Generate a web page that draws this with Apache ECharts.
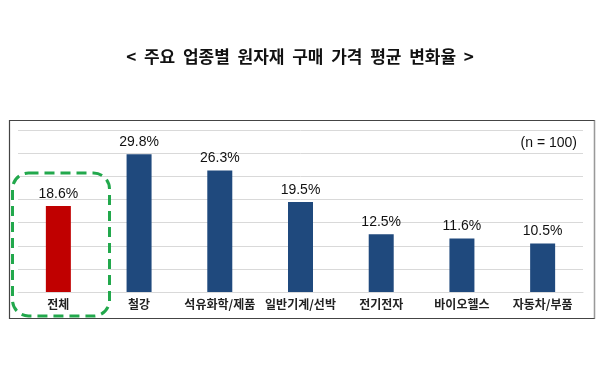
<!DOCTYPE html>
<html><head><meta charset="utf-8">
<script src="https://cdn.jsdelivr.net/npm/echarts@6/dist/echarts.min.js"></script>
<style>html,body{margin:0;padding:0;background:#fff}#c{width:600px;height:372px}</style>
</head><body><div id="c"></div>
<script>
const categories = ['전체','철강','석유화학/제품','일반기계/선박','전기전자','바이오헬스','자동차/부품'];
const values = [18.6, 29.8, 26.3, 19.5, 12.5, 11.6, 10.5];
const highlightIndex = 0;
const yMax = 35, yInterval = 5;
const titleText = '<  주요  업종별  원자재  구매  가격  평균  변화율  >';
const noteText = '(n = 100)';

const chart = echarts.init(document.getElementById('c'), null, {renderer:'canvas'});
const KR = '"Noto Sans CJK KR","Noto Sans",sans-serif';
chart.setOption({
  animation:false,
  backgroundColor:'#fff',
  title:{text:titleText,left:'center',top:43,textStyle:{fontFamily:KR,fontSize:17,fontWeight:'bold',color:'#111'}},
  grid:{left:18,right:17,top:130.3,bottom:80,containLabel:false},
  xAxis:{type:'category',data:categories,
    axisLine:{show:true,lineStyle:{color:'#d9d9d9',width:1}},
    axisTick:{show:false},
    axisLabel:{interval:0,fontFamily:KR,fontSize:12,fontWeight:'bold',color:'#222',margin:6}},
  yAxis:{type:'value',min:0,max:yMax,interval:yInterval,
    axisLine:{show:false},axisTick:{show:false},axisLabel:{show:false},
    splitLine:{lineStyle:{color:'#d9d9d9',width:1}}},
  series:[{type:'bar',barWidth:25,
    data:values.map((v,i)=>({value:v,itemStyle:{color:i===highlightIndex?'#c00000':'#1f497d'}})),
    label:{show:true,position:'top',distance:5,fontFamily:'"Liberation Sans",Arial,sans-serif',fontSize:14,color:'#111',formatter:p=>p.value.toFixed(1)+'%'}}],
  graphic:[
    {type:'rect',shape:{x:9.5,y:120.5,width:585,height:198},style:{fill:'none',stroke:'#444',lineWidth:1.2},z:1},
    {type:'line',shape:{x1:594.5,y1:120.5,x2:594.5,y2:318.5},style:{stroke:'#999',lineWidth:1.2},z:2},
    {type:'rect',shape:{x:12.5,y:173,width:97,height:143,r:16},style:{fill:'none',stroke:'#22a84c',lineWidth:3,lineDash:[10,6]},z:10},
    {type:'text',style:{text:noteText,x:577,y:143,align:'right',verticalAlign:'middle',font:'14px "Liberation Sans",Arial,sans-serif',fill:'#111'},z:10}
  ]
});
</script></body></html>
